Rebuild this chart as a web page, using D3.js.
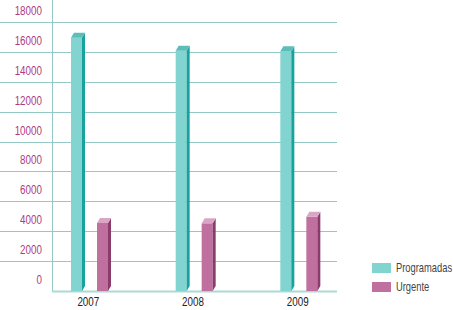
<!DOCTYPE html>
<html>
<head>
<meta charset="utf-8">
<script src="https://cdn.jsdelivr.net/npm/d3@7"></script>
<style>
  body { margin: 0; background: #fff; }
  text { font-family: "Liberation Sans", Arial, sans-serif; }
</style>
</head>
<body>
<script>
// data
const years = ['2007', '2008', '2009']
const series = ['Programadas', 'Urgente']
const programadas = [16950, 16080, 16050]
const urgente = [4550, 4530, 4970]
const ticks = [0, 2000, 4000, 6000, 8000, 10000, 12000, 14000, 16000, 18000]

const colors = {
	Programadas: { front: '#82d4d1', side: '#16a29d', top: '#5cbdb9' },
	Urgente: { front: '#c0709f', side: '#8b3b6c', top: '#dba6c6' }
}

const width = 453
const height = 310
const svg = d3.select('body').append('svg').attr('width', width).attr('height', height)

// narrow-ish text: no condensed face installed, so squeeze horizontally
const place = (x, y, k = 0.82) => `translate(${x},${y}) scale(${k},1)`

// scales
const y = d3.scaleLinear().domain([0, 18000]).range([291, 22])
const x0 = d3.scaleBand().domain(years).range([36, 350])
const x1 = d3.scalePoint().domain(series).range([35, 61])
const barW = 11
const dx = 3
const dy = 5

// gridlines
svg.append('g')
	.selectAll('line')
	.data(ticks.filter(d => d > 0))
	.join('line')
	.attr('x1', 0)
	.attr('x2', 337)
	.attr('y1', d => Math.round(y(d)) + 0.5)
	.attr('y2', d => Math.round(y(d)) + 0.5)
	.attr('stroke', '#93c8c4')
	.attr('stroke-width', 1)

// vertical axis line
svg.append('line')
	.attr('x1', 52.5).attr('x2', 52.5)
	.attr('y1', 0).attr('y2', 292)
	.attr('stroke', '#93c8c4')

// baseline
svg.append('line')
	.attr('x1', 52).attr('x2', 337)
	.attr('y1', y(0) + 0.5).attr('y2', y(0) + 0.5)
	.attr('stroke', '#abd9d5')
	.attr('stroke-width', 2)

// tick labels (sit above the gridline)
svg.append('g')
	.selectAll('text')
	.data(ticks)
	.join('text')
	.attr('transform', d => place(42, y(d) - 7))
	.attr('text-anchor', 'end')
	.attr('fill', '#b13a7f')
	.attr('font-size', 12)
	.text(d => d)

// bars
const rows = []
years.forEach((yr, i) => {
	rows.push({ year: yr, s: 'Programadas', v: programadas[i] })
	rows.push({ year: yr, s: 'Urgente', v: urgente[i] })
})

const bar = svg.append('g')
	.selectAll('g')
	.data(rows)
	.join('g')

bar.append('rect')
	.attr('x', d => x0(d.year) + x1(d.s))
	.attr('y', d => y(d.v))
	.attr('width', barW)
	.attr('height', d => y(0) - y(d.v))
	.attr('fill', d => colors[d.s].front)

bar.append('path')
	.attr('d', d => {
		const l = x0(d.year) + x1(d.s) + barW
		const t = y(d.v)
		const b = y(0)
		return `M${l},${t}L${l + dx},${t - dy}L${l + dx},${b - dy}L${l},${b}Z`
	})
	.attr('fill', d => colors[d.s].side)

bar.append('path')
	.attr('d', d => {
		const l = x0(d.year) + x1(d.s)
		const t = y(d.v)
		return `M${l},${t}L${l + dx},${t - dy}L${l + barW + dx},${t - dy}L${l + barW},${t}Z`
	})
	.attr('fill', d => colors[d.s].top)

// year labels
svg.append('g')
	.selectAll('text')
	.data(years)
	.join('text')
	.attr('transform', d => place(x0(d) + x0.bandwidth() / 2, 306))
	.attr('text-anchor', 'middle')
	.attr('fill', '#222')
	.attr('font-size', 12)
	.text(d => d)

// legend
const legend = svg.append('g')
	.selectAll('g')
	.data(series)
	.join('g')
	.attr('transform', (d, i) => `translate(372,${263 + i * 19})`)

legend.append('rect')
	.attr('width', 19)
	.attr('height', 10)
	.attr('fill', d => colors[d].front)

legend.append('text')
	.attr('transform', place(24, 9, 0.78))
	.attr('fill', '#444')
	.attr('font-size', 12)
	.text(d => d)
</script>
</body>
</html>
